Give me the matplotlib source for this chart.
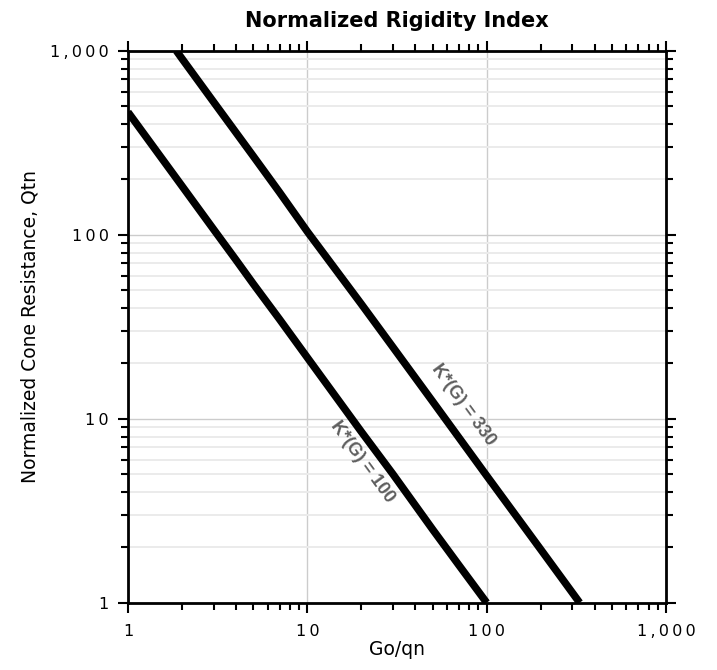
import numpy as np
import matplotlib
matplotlib.use("Agg")
import matplotlib.pyplot as plt
from matplotlib.ticker import FuncFormatter, LogLocator, NullFormatter

# K*(G) = 100 curve
go_qn_100 = [1, 2, 3, 4, 5, 7, 10, 20, 30, 50, 70, 100]
qtn_100 = [464, 184, 107, 73, 54, 34.7, 21.5, 8.5, 5.0, 2.5, 1.6, 1.0]

# K*(G) = 330 curve
go_qn_330 = [1.86, 2, 3, 5, 7, 10, 20, 30, 50, 70, 100, 200, 330]
qtn_330 = [1000, 906, 527, 267, 170, 104, 42, 24.5, 12.4, 7.9, 4.9, 1.95, 1.0]

labels = ["K*(G) = 100", "K*(G) = 330"]
label_pos = [(20.2, 5.8), (73.9, 11.9)]

fig = plt.figure(figsize=(7.17, 6.70), dpi=100)
ax = fig.add_axes([0.1785, 0.1004, 0.7504, 0.8239])

ax.plot(go_qn_100, qtn_100, color="black", lw=5.4, solid_capstyle="butt", zorder=3)
ax.plot(go_qn_330, qtn_330, color="black", lw=5.4, solid_capstyle="butt", zorder=3)

ax.set_xscale("log")
ax.set_yscale("log")
ax.set_xlim(1, 1000)
ax.set_ylim(1, 1000)

# grid: major both ways, minor only horizontal
ax.grid(True, which="major", color="#cccccc", lw=1.0, zorder=0)
ax.yaxis.grid(True, which="minor", color="#ebebeb", lw=1.4, zorder=0)
ax.set_axisbelow(True)

sp = "\u2009"
fmt = FuncFormatter(lambda v, p: sp.join("{:,.0f}".format(v)))
ax.xaxis.set_major_formatter(fmt)
ax.yaxis.set_major_formatter(fmt)
ax.xaxis.set_minor_locator(LogLocator(base=10, subs=np.arange(2, 10)))
ax.yaxis.set_minor_locator(LogLocator(base=10, subs=np.arange(2, 10)))
ax.xaxis.set_minor_formatter(NullFormatter())
ax.yaxis.set_minor_formatter(NullFormatter())

ax.tick_params(which="both", direction="out", top=True, right=True,
               width=1.5, color="black", labelsize=11.5)
ax.tick_params(which="major", length=7.5)
ax.tick_params(axis="x", which="major", pad=8)
ax.tick_params(axis="y", which="major", pad=6.5)
ax.tick_params(which="minor", length=5)

for s in ax.spines.values():
    s.set_linewidth(2)
    s.set_color("black")

ax.set_title("Normalized Rigidity Index", fontsize=15, fontweight="bold", pad=17)
ax.set_xlabel("Go/qn", fontsize=13.5)
ax.set_ylabel("Normalized Cone Resistance, Qtn", fontsize=13.5)
ax.xaxis.set_label_coords(0.5, -0.068)
ax.yaxis.set_label_coords(-0.182, 0.5)
ax.yaxis.label.set_va("center")

# rotate labels along the lines (screen angle)
fig.canvas.draw()
p0 = ax.transData.transform((10, 21.5))
p1 = ax.transData.transform((100, 1.0))
ang = np.degrees(np.arctan2(p1[1] - p0[1], p1[0] - p0[0]))
for txt, (x, y) in zip(labels, label_pos):
    ax.text(x, y, txt, rotation=ang, ha="center", va="center",
            color="#5e5e5e", fontsize=13, fontweight="bold",
            family=["Liberation Sans", "DejaVu Sans"], rotation_mode="anchor", zorder=4)

fig.savefig("out.png", dpi=100)
